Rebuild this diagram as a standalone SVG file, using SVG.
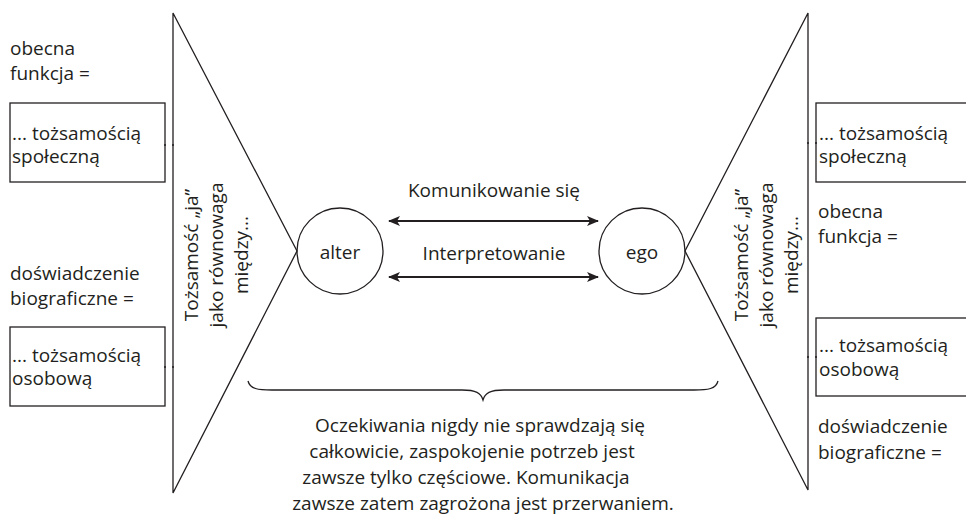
<svg xmlns="http://www.w3.org/2000/svg" width="966" height="515" viewBox="0 0 966 515">
  <style>
    .t { font-family: "Open Sans", "Noto Sans", "Liberation Sans", sans-serif; font-size: 19px; fill: #231f20; }
    .mid { text-anchor: middle; }
    .ln { fill: none; stroke: #231f20; stroke-width: 1.3; }
    .box { fill: #ffffff; stroke: #231f20; stroke-width: 1.3; }
    .arr { fill: none; stroke: #231f20; stroke-width: 2; marker-start: url(#head); marker-end: url(#head); }
    .tick { stroke: #231f20; stroke-width: 1.5; stroke-dasharray: 2 6 2; }
  </style>
  <defs>
    <marker id="head" viewBox="0 0 12 10" refX="11" refY="5" markerWidth="12" markerHeight="10" markerUnits="userSpaceOnUse" orient="auto-start-reverse">
      <path d="M0,0 L12,5 L0,10 L3,5 Z" fill="#231f20"/>
    </marker>
  </defs>
  <rect width="966" height="515" fill="#ffffff"/>

  <!-- left wedge: identity as balance -->
  <g id="wedge-left">
    <path class="ln" d="M173,13 L297,251 L173,493 Z"/>
    <g class="t mid" transform="translate(198,255) rotate(-90)">
      <text x="0" y="0">Tożsamość „ja”</text>
      <text x="0" y="25">jako równowaga</text>
      <text x="0" y="50">między...</text>
    </g>
  </g>

  <!-- right wedge -->
  <g id="wedge-right">
    <path class="ln" d="M808,13 L685,251 L808,490 Z"/>
    <g class="t mid" transform="translate(748,255) rotate(-90)">
      <text x="0" y="0">Tożsamość „ja”</text>
      <text x="0" y="25">jako równowaga</text>
      <text x="0" y="50">między...</text>
    </g>
  </g>

  <!-- left side labels and boxes -->
  <g id="label-left-function">
    <text class="t" x="10" y="55">obecna</text>
    <text class="t" x="10" y="80">funkcja =</text>
  </g>
  <g id="box-left-social">
    <rect class="box" x="10" y="103" width="155" height="79"/>
    <text class="t" x="12" y="140">... tożsamością</text>
    <text class="t" x="12" y="163">społeczną</text>
  </g>
  <g id="label-left-bio">
    <text class="t" x="10" y="280">doświadczenie</text>
    <text class="t" x="10" y="305">biograficzne =</text>
  </g>
  <g id="box-left-personal">
    <rect class="box" x="10" y="327" width="155" height="79"/>
    <text class="t" x="12" y="362">... tożsamością</text>
    <text class="t" x="12" y="385">osobową</text>
  </g>

  <!-- right side labels and boxes -->
  <g id="box-right-social">
    <rect class="box" x="816" y="103" width="160" height="79"/>
    <text class="t" x="819" y="140">... tożsamością</text>
    <text class="t" x="819" y="163">społeczną</text>
  </g>
  <g id="label-right-function">
    <text class="t" x="818" y="218">obecna</text>
    <text class="t" x="818" y="243">funkcja =</text>
  </g>
  <g id="box-right-personal">
    <rect class="box" x="816" y="318" width="160" height="78"/>
    <text class="t" x="819" y="352">... tożsamością</text>
    <text class="t" x="819" y="376">osobową</text>
  </g>
  <g id="label-right-bio">
    <text class="t" x="818" y="433">doświadczenie</text>
    <text class="t" x="818" y="459">biograficzne =</text>
  </g>

  <!-- partners -->
  <g id="alter">
    <circle class="ln" cx="340" cy="251" r="43"/>
    <text class="t mid" x="340" y="259">alter</text>
  </g>
  <g id="ego">
    <circle class="ln" cx="642" cy="251" r="43"/>
    <text class="t mid" x="642" y="259">ego</text>
  </g>

  <!-- connectors -->
  <g id="connectors">
    <line class="arr" x1="389" y1="221" x2="598" y2="221"/>
    <line class="arr" x1="389" y1="277" x2="598" y2="277" stroke-width="1.6"/>
    <line class="tick" x1="164" y1="145" x2="174" y2="145"/>
    <line class="tick" x1="164" y1="367" x2="174" y2="367"/>
    <line class="tick" x1="807" y1="143" x2="817" y2="143"/>
    <line class="tick" x1="807" y1="357" x2="817" y2="357"/>
    <path class="ln" d="M248,381 C250,389 258,390 272,390 L462,390 C476,390 481,393 483,400 C485,393 490,390 504,390 L694,390 C708,390 716,389 718,381"/>
  </g>
  <g id="label-komunikowanie">
    <text class="t mid" x="494" y="197">Komunikowanie się</text>
  </g>
  <g id="label-interpretowanie">
    <text class="t mid" x="494" y="260">Interpretowanie</text>
  </g>

  <!-- summary note under the brace -->
  <g id="note">
    <text class="t mid" x="480" y="432">Oczekiwania nigdy nie sprawdzają się</text>
    <text class="t mid" x="472" y="458">całkowicie, zaspokojenie potrzeb jest</text>
    <text class="t mid" x="466" y="484">zawsze tylko częściowe. Komunikacja</text>
    <text class="t mid" x="483" y="510">zawsze zatem zagrożona jest przerwaniem.</text>
  </g>
</svg>
